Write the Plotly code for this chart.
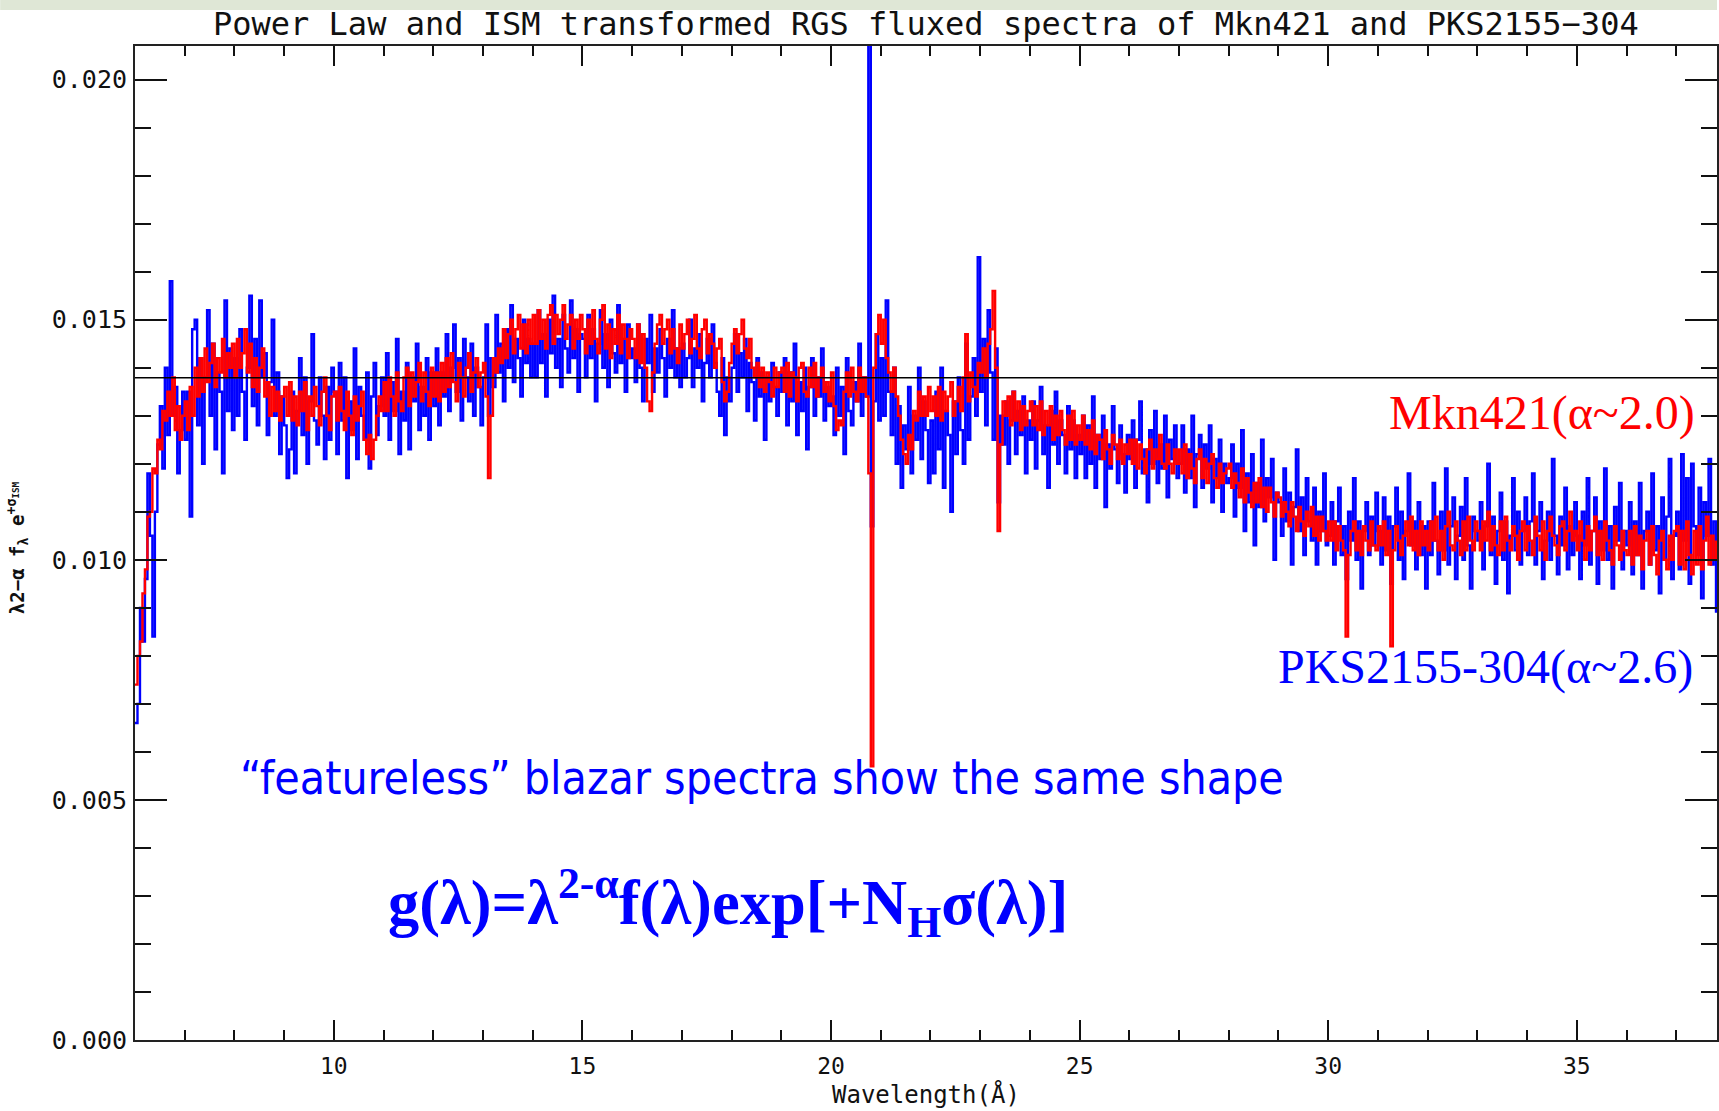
import numpy as np
import plotly.graph_objects as go

# ---------------- data ----------------
WAVE_START = 6.0      # Angstrom, first bin
WAVE_STEP = 0.05      # Angstrom, bin width
FLUX_UNIT = 1e-5      # flux values below are in units of 1e-5

# PKS2155-304 (blue), one row per Angstrom (20 bins of 0.05 A)
PKS2155_304 = [
    660, 700, 900, 830, 960, 1180, 1050, 840, 1100, 1240, 1320, 1190, 1400, 1260, 1580, 1300, 1360, 1180, 1270, 1350,
    1250, 1350, 1090, 1480, 1500, 1280, 1420, 1200, 1380, 1520, 1300, 1450, 1230, 1390, 1350, 1180, 1540, 1310, 1440, 1270,
    1420, 1300, 1480, 1350, 1250, 1400, 1550, 1320, 1460, 1280, 1540, 1380, 1430, 1260, 1370, 1500, 1300, 1390, 1220, 1340,
    1280, 1170, 1230, 1350, 1180, 1310, 1420, 1260, 1380, 1200, 1330, 1470, 1290, 1240, 1380, 1300, 1210, 1360, 1250, 1400,
    1350, 1220, 1410, 1290, 1380, 1170, 1330, 1270, 1440, 1210, 1360, 1300, 1250, 1390, 1190, 1340, 1410, 1260, 1320, 1380,
    1300, 1430, 1250, 1370, 1310, 1460, 1220, 1350, 1290, 1410, 1230, 1380, 1330, 1450, 1270, 1360, 1300, 1420, 1250, 1390,
    1320, 1440, 1280, 1390, 1340, 1470, 1310, 1400, 1490, 1350, 1420, 1290, 1460, 1380, 1330, 1450, 1300, 1400, 1360, 1280,
    1380, 1490, 1300, 1420, 1360, 1510, 1390, 1450, 1330, 1480, 1400, 1530, 1370, 1460, 1420, 1340, 1500, 1410, 1460, 1380,
    1450, 1380, 1520, 1410, 1470, 1340, 1500, 1430, 1550, 1400, 1460, 1360, 1510, 1440, 1390, 1540, 1420, 1480, 1350, 1470,
    1460, 1380, 1510, 1420, 1480, 1330, 1450, 1520, 1400, 1470, 1360, 1500, 1430, 1390, 1530, 1410, 1460, 1350, 1490, 1420,
    1440, 1370, 1490, 1400, 1330, 1460, 1410, 1510, 1350, 1440, 1390, 1480, 1420, 1340, 1460, 1400, 1520, 1380, 1440, 1360,
    1450, 1380, 1420, 1500, 1360, 1440, 1400, 1470, 1330, 1410, 1460, 1380, 1490, 1410, 1350, 1300, 1420, 1260, 1380, 1330,
    1400, 1470, 1350, 1430, 1380, 1460, 1310, 1410, 1370, 1290, 1420, 1340, 1390, 1250, 1380, 1330, 1410, 1360, 1300, 1390,
    1350, 1420, 1280, 1390, 1330, 1450, 1260, 1370, 1310, 1400, 1230, 1360, 1420, 1300, 1380, 1340, 1440, 1290, 1360, 1320,
    1340, 1260, 1400, 1300, 1360, 1220, 1420, 1310, 1280, 1370, 1330, 1450, 1300, 1380, 1340, 2500, 1070, 1330, 1470, 1290,
    1420, 1300, 1540, 1350, 1260, 1400, 1200, 1320, 1150, 1280, 1230, 1360, 1180, 1300, 1250, 1400, 1210, 1330, 1270, 1160,
    1290, 1180, 1350, 1230, 1400, 1150, 1310, 1260, 1100, 1330, 1220, 1380, 1270, 1200, 1450, 1250, 1340, 1420, 1300, 1630,
    1350, 1460, 1280, 1520, 1390, 1250, 1440, 1120, 1300, 1240, 1330, 1200, 1290, 1350, 1220, 1310, 1260, 1340, 1180, 1290,
    1250, 1330, 1190, 1290, 1360, 1220, 1280, 1150, 1310, 1240, 1350, 1200, 1290, 1260, 1180, 1320, 1230, 1290, 1170, 1260,
    1220, 1300, 1170, 1280, 1200, 1340, 1150, 1260, 1210, 1300, 1110, 1240, 1190, 1320, 1230, 1160, 1280, 1220, 1140, 1260,
    1210, 1290, 1150, 1250, 1330, 1180, 1230, 1120, 1270, 1200, 1310, 1160, 1240, 1190, 1300, 1130, 1250, 1210, 1280, 1170,
    1200, 1280, 1140, 1230, 1170, 1300, 1110, 1220, 1260, 1150, 1240, 1190, 1280, 1120, 1210, 1170, 1250, 1100, 1200, 1160,
    1170, 1240, 1090, 1200, 1150, 1270, 1060, 1180, 1120, 1220, 1030, 1160, 1110, 1250, 1080, 1170, 1130, 1210, 1000, 1140,
    1120, 1050, 1190, 1080, 1140, 990, 1110, 1230, 1060, 1130, 1010, 1170, 1080, 1040, 1150, 990, 1100, 1060, 1180, 1030,
    1050, 1120, 990, 1080, 1150, 1010, 1070, 960, 1100, 1040, 1170, 1000, 1080, 940, 1060, 1120, 1010, 1090, 1030, 1140,
    1060, 990, 1130, 1020, 1090, 950, 1070, 1150, 1000, 1100, 960, 1060, 1180, 1030, 1080, 980, 1120, 1010, 1070, 940,
    1080, 1010, 1160, 1040, 970, 1100, 1020, 1190, 990, 1070, 1130, 960, 1050, 1110, 1000, 1170, 1030, 940, 1090, 1060,
    1040, 1120, 980, 1070, 1200, 1010, 1090, 950, 1060, 1140, 1000, 1080, 930, 1050, 1170, 1020, 1100, 990, 1060, 1130,
    1010, 1080, 1180, 990, 1060, 1120, 960, 1040, 1100, 1000, 1210, 1050, 970, 1090, 1030, 1150, 980, 1070, 1010, 1120,
    1050, 960, 1100, 1030, 1170, 990, 1060, 1130, 950, 1080, 1020, 1190, 1000, 1070, 940, 1110, 1040, 1160, 980, 1060,
    1030, 1120, 970, 1080, 1010, 1160, 940, 1060, 1100, 990, 1180, 1020, 1070, 930, 1130, 1000, 1090, 1210, 960, 1050,
    1100, 980, 1220, 1040, 1170, 950, 1200, 1070, 1010, 1150, 920, 1120, 1050, 1210, 990, 1080, 890,
]

# Mkn421 (red), same bins
MKN421 = [
    740, 800, 830, 930, 980, 1090, 1100, 1190, 1180, 1250, 1230, 1310, 1290, 1350, 1300, 1380, 1270, 1320, 1250, 1300,
    1330, 1270, 1360, 1300, 1400, 1340, 1420, 1350, 1440, 1370, 1410, 1450, 1360, 1420, 1390, 1460, 1380, 1430, 1400, 1450,
    1380, 1460, 1400, 1430, 1480, 1390, 1450, 1360, 1420, 1350, 1400, 1440, 1340, 1370, 1300, 1360, 1310, 1350, 1290, 1340,
    1360, 1300, 1370, 1290, 1340, 1280, 1350, 1310, 1370, 1270, 1340, 1300, 1360, 1320, 1280, 1350, 1380, 1300, 1270, 1340,
    1350, 1290, 1360, 1310, 1270, 1350, 1300, 1260, 1340, 1290, 1320, 1350, 1250, 1220, 1260, 1210, 1250, 1300, 1340, 1310,
    1370, 1310, 1380, 1340, 1300, 1390, 1330, 1310, 1380, 1400, 1320, 1390, 1340, 1370, 1410, 1330, 1390, 1350, 1320, 1400,
    1340, 1390, 1330, 1410, 1350, 1420, 1360, 1430, 1370, 1330, 1410, 1380, 1340, 1400, 1430, 1350, 1390, 1420, 1360, 1390,
    1410, 1340, 1170, 1300, 1420, 1390, 1440, 1410, 1480, 1420, 1470, 1500, 1430, 1480, 1510, 1440, 1490, 1430, 1500, 1450,
    1510, 1450, 1520, 1460, 1500, 1440, 1510, 1530, 1450, 1510, 1470, 1500, 1530, 1460, 1490, 1510, 1440, 1500, 1460, 1510,
    1480, 1430, 1500, 1450, 1520, 1460, 1430, 1500, 1530, 1440, 1490, 1420, 1480, 1450, 1510, 1430, 1490, 1460, 1420, 1480,
    1460, 1420, 1490, 1410, 1470, 1400, 1330, 1310, 1390, 1450, 1490, 1510, 1450, 1480, 1500, 1430, 1480, 1440, 1410, 1490,
    1440, 1470, 1500, 1430, 1460, 1510, 1440, 1420, 1480, 1500, 1430, 1470, 1450, 1400, 1440, 1460, 1370, 1330, 1350, 1410,
    1450, 1480, 1430, 1470, 1500, 1440, 1420, 1460, 1400, 1380, 1410, 1360, 1400, 1350, 1390, 1370, 1340, 1400, 1360, 1390,
    1400, 1350, 1410, 1340, 1390, 1380, 1330, 1400, 1410, 1350, 1340, 1400, 1360, 1410, 1340, 1380, 1400, 1350, 1370, 1330,
    1390, 1320, 1270, 1290, 1280, 1350, 1390, 1340, 1400, 1350, 1330, 1400, 1350, 1380, 1340, 1180, 570, 1400, 1470, 1510,
    1450, 1500, 1420, 1390, 1350, 1400, 1340, 1300, 1250, 1220, 1200, 1260, 1230, 1310, 1290, 1350, 1300, 1340, 1300, 1360,
    1310, 1340, 1300, 1360, 1290, 1350, 1310, 1340, 1370, 1300, 1330, 1360, 1310, 1380, 1470, 1330, 1390, 1360, 1340, 1410,
    1390, 1440, 1380, 1450, 1480, 1560, 1400, 1060, 1240, 1330, 1300, 1340, 1280, 1350, 1290, 1330, 1270, 1320, 1280, 1310,
    1330, 1280, 1320, 1270, 1330, 1260, 1310, 1280, 1320, 1250, 1300, 1260, 1310, 1270, 1240, 1300, 1250, 1310, 1240, 1280,
    1250, 1300, 1240, 1270, 1230, 1290, 1220, 1260, 1250, 1210, 1270, 1230, 1200, 1260, 1240, 1210, 1250, 1200, 1240, 1220,
    1250, 1200, 1250, 1190, 1240, 1210, 1180, 1230, 1250, 1190, 1230, 1210, 1260, 1200, 1190, 1240, 1200, 1180, 1230, 1200,
    1230, 1180, 1240, 1170, 1220, 1190, 1160, 1210, 1230, 1170, 1210, 1160, 1200, 1220, 1170, 1150, 1200, 1160, 1180, 1190,
    1200, 1150, 1180, 1160, 1130, 1190, 1120, 1170, 1140, 1110, 1160, 1120, 1170, 1110, 1150, 1100, 1150, 1120, 1090, 1140,
    1130, 1090, 1120, 1100, 1070, 1120, 1090, 1060, 1110, 1080, 1050, 1100, 1070, 1110, 1050, 1090, 1040, 1090, 1060, 1040,
    1080, 1040, 1080, 1020, 1070, 1040, 1020, 840, 1010, 1060, 1080, 1020, 1060, 1010, 1070, 1040, 1020, 1080, 1030, 1020,
    1070, 1030, 1080, 1010, 1060, 820, 1020, 1070, 1040, 1010, 1050, 1080, 1030, 1090, 1020, 1060, 1010, 1080, 1030, 1060,
    1020, 1080, 1040, 1090, 1020, 1060, 1000, 1070, 1100, 1030, 1020, 1080, 1040, 1010, 1080, 1020, 1090, 1040, 1020, 1080,
    1060, 1020, 1080, 1040, 1100, 1020, 1070, 1030, 1010, 1080, 1020, 1090, 1040, 1020, 1070, 1050, 1000, 1060, 1080, 1020,
    1070, 1040, 1010, 1090, 1050, 1020, 1080, 1000, 1060, 1090, 1050, 1030, 1010, 1070, 1080, 1020, 1060, 1100, 1040, 1060,
    1020, 1080, 1040, 1000, 1070, 1020, 1060, 1090, 1010, 1060, 1000, 1080, 1040, 1020, 990, 1070, 1030, 1000, 1060, 1020,
    1010, 1060, 990, 1070, 1010, 1050, 980, 1040, 1060, 990, 1070, 1010, 970, 1040, 1060, 1000, 980, 1050, 1000, 1060,
    1070, 990, 1060, 980, 1080, 1010, 970, 1060, 990, 1070, 980, 1040, 1090, 990, 1050, 1000, 1040,
]

CONTINUUM_LEVEL = 0.01379          # horizontal reference line

X_RANGE = [6.0, 37.82]
Y_RANGE = [0.0, 0.0207]

TITLE = "Power Law and ISM transformed RGS fluxed spectra of Mkn421 and PKS2155\u2212304"
X_TITLE = "Wavelength(\u00c5)"
Y_TITLE = "<b>\u03bb2\u2212\u03b1 f<sub>\u03bb</sub> e<sup>+\u03c3<sub>ISM</sub></sup></b>"
LABEL_MKN = "Mkn421(\u03b1~2.0)"
LABEL_PKS = "PKS2155-304(\u03b1~2.6)"
NOTE = "\u201cfeatureless\u201d blazar spectra show the same shape"
FORMULA = "g(\u03bb)=\u03bb<sup>2-\u03b1</sup>f(\u03bb)exp[+N<sub>H</sub>\u03c3(\u03bb)]"

# ---------------- figure ----------------
W, H = 1719, 1111
ML, MR, MT, MB = 135, 0, 46, 71
PW, PH = W - ML - MR, H - MT - MB


def px_x(px):
    return (px - ML) / PW


def px_y(py):
    return (H - MB - py) / PH


wave = WAVE_START + WAVE_STEP * np.arange(len(PKS2155_304))
pks = np.array(PKS2155_304, dtype=float) * FLUX_UNIT
mkn = np.array(MKN421, dtype=float) * FLUX_UNIT

fig = go.Figure()
fig.add_trace(go.Scatter(x=wave, y=pks, mode="lines", line=dict(color="#0000ff", width=2.4, shape="hv"),
                         name="PKS2155-304", hoverinfo="skip"))
fig.add_trace(go.Scatter(x=wave, y=mkn, mode="lines", line=dict(color="#ff0000", width=2.4, shape="hv"),
                         name="Mkn421", hoverinfo="skip"))

MONO = "DejaVu Sans Mono"

fig.update_xaxes(range=X_RANGE, tickmode="linear", tick0=0, dtick=5,
                 ticks="inside", ticklen=20, tickwidth=1.5, tickcolor="#111",
                 minor=dict(tick0=0, dtick=1, ticks="inside", ticklen=10, tickwidth=1.5, tickcolor="#111"),
                 showline=True, linewidth=2, linecolor="#222", mirror="ticks",
                 showgrid=False, zeroline=False,
                 tickfont=dict(family=MONO, size=23, color="#111"), ticklabelstandoff=4)
fig.update_yaxes(range=Y_RANGE, tickmode="linear", tick0=0, dtick=0.005, tickformat=".3f",
                 ticks="inside", ticklen=32, tickwidth=1.5, tickcolor="#111",
                 minor=dict(tick0=0, dtick=0.001, ticks="inside", ticklen=16, tickwidth=1.5, tickcolor="#111"),
                 showline=True, linewidth=2, linecolor="#222", mirror="ticks",
                 showgrid=False, zeroline=False,
                 tickfont=dict(family=MONO, size=25, color="#111"), ticklabelstandoff=1)

shapes = [
    dict(type="rect", xref="paper", yref="paper", x0=px_x(0), x1=px_x(W), y0=px_y(10), y1=px_y(0),
         fillcolor="#dfe7d6", line=dict(width=0), layer="below"),
    dict(type="line", xref="paper", yref="y", x0=0, x1=1, y0=CONTINUUM_LEVEL, y1=CONTINUUM_LEVEL,
         line=dict(color="#000", width=1.6), layer="above"),
]

annotations = [
    dict(text=TITLE, xref="paper", yref="paper", x=0.5, y=px_y(24), xanchor="center", yanchor="middle",
         showarrow=False, font=dict(family=MONO, size=32, color="#111")),
    dict(text=X_TITLE, xref="paper", yref="paper", x=0.5, y=px_y(1094), xanchor="center", yanchor="middle",
         showarrow=False, font=dict(family=MONO, size=24, color="#111")),
    dict(text=Y_TITLE, xref="paper", yref="paper", x=px_x(17), y=px_y(548), xanchor="center", yanchor="middle",
         textangle=-90, showarrow=False, font=dict(family=MONO, size=19, color="#111")),
    dict(text=LABEL_MKN, xref="paper", yref="paper", x=px_x(1699), y=px_y(413), xanchor="right", yanchor="middle",
         showarrow=False, font=dict(family="Liberation Serif", size=48, color="#ff0000")),
    dict(text=LABEL_PKS, xref="paper", yref="paper", x=px_x(1697), y=px_y(667), xanchor="right", yanchor="middle",
         showarrow=False, font=dict(family="Liberation Serif", size=48, color="#0000ff")),
    dict(text=NOTE, xref="paper", yref="paper", x=px_x(238), y=px_y(778), xanchor="left", yanchor="middle",
         showarrow=False, font=dict(family="DejaVu Sans Condensed, DejaVu Sans", size=46, color="#0000ff")),
    dict(text="<b>" + FORMULA + "</b>", xref="paper", yref="paper", x=px_x(386), y=px_y(902), xanchor="left",
         yanchor="middle", showarrow=False, font=dict(family="Liberation Serif", size=62.5, color="#0000ff")),
]

fig.update_layout(width=W, height=H, margin=dict(l=ML, r=MR, t=MT, b=MB, pad=0),
                  paper_bgcolor="white", plot_bgcolor="white", showlegend=False,
                  shapes=shapes, annotations=annotations, hovermode=False)

fig.write_html("out.html", include_plotlyjs=True, config={"displayModeBar": False},
               post_script="document.body.style.margin='0px';document.body.style.overflow='hidden';")
